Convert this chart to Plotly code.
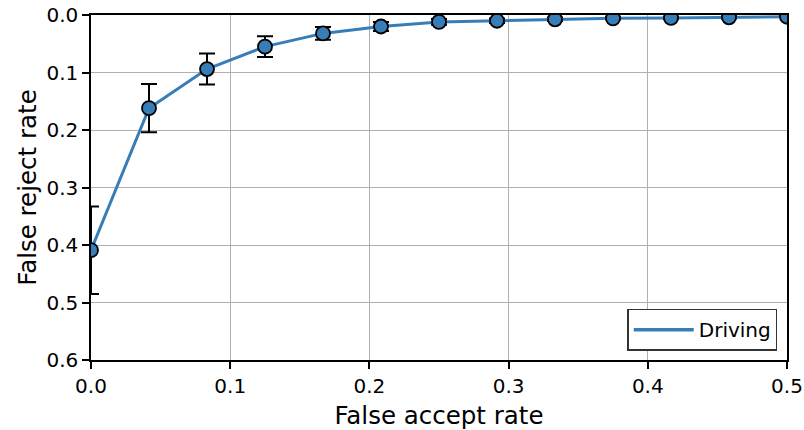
import plotly.graph_objects as go

# False accept rate sampled at thresholds (step 1/24)
far = [0.0, 1/24, 2/24, 3/24, 4/24, 5/24, 6/24, 7/24, 8/24, 9/24, 10/24, 11/24, 12/24]
# Mean false reject rate and its standard deviation
frr = [0.409, 0.162, 0.094, 0.055, 0.032, 0.020, 0.012, 0.010, 0.0075, 0.0058, 0.005, 0.004, 0.003]
frr_err = [0.076, 0.042, 0.027, 0.018, 0.011, 0.008, 0.005, 0.004, 0.003, 0.002, 0.002, 0.002, 0.001]

series_name = "Driving"
color = "#377eb8"
font_family = "DejaVu Sans, Verdana, sans-serif"

fig = go.Figure()
fig.add_trace(go.Scatter(
    x=far, y=frr, mode="lines+markers", showlegend=False, cliponaxis=True,
    line=dict(color=color, width=3),
    marker=dict(size=14, color=color, line=dict(color="black", width=1.8)),
    error_y=dict(type="data", array=frr_err, color="black", thickness=2, width=8),
))
# legend entry shows the line only
fig.add_trace(go.Scatter(
    x=[None], y=[None], mode="lines", name=series_name,
    line=dict(color=color, width=3.5),
))

axis_common = dict(
    showline=True, linecolor="black", linewidth=1.5, mirror=True,
    ticks="outside", ticklen=7, tickwidth=1.5, tickcolor="black",
    showgrid=True, gridcolor="#b0b0b0", gridwidth=1.2, zeroline=False,
    tickfont=dict(size=20, color="black", family=font_family),
    automargin=False,
)

fig.update_layout(
    width=804, height=430,
    margin=dict(l=91, r=17, t=15, b=70),
    paper_bgcolor="white", plot_bgcolor="white",
    font=dict(family=font_family, color="black"),
    xaxis=dict(range=[0, 0.5], dtick=0.1, tickformat=".1f",
               title=dict(text="False accept rate", font=dict(size=24.5), standoff=10),
               **axis_common),
    yaxis=dict(range=[0.6, 0], dtick=0.1, tickformat=".1f",
               title=dict(text="False reject rate", font=dict(size=24.5), standoff=3),
               **axis_common),
    legend=dict(x=0.986, y=0.027, xanchor="right", yanchor="bottom",
                bgcolor="white", bordercolor="#333", borderwidth=1.5,
                entrywidth=92, itemwidth=60,
                font=dict(size=20, color="black")),
)

fig.write_html("out.html")
